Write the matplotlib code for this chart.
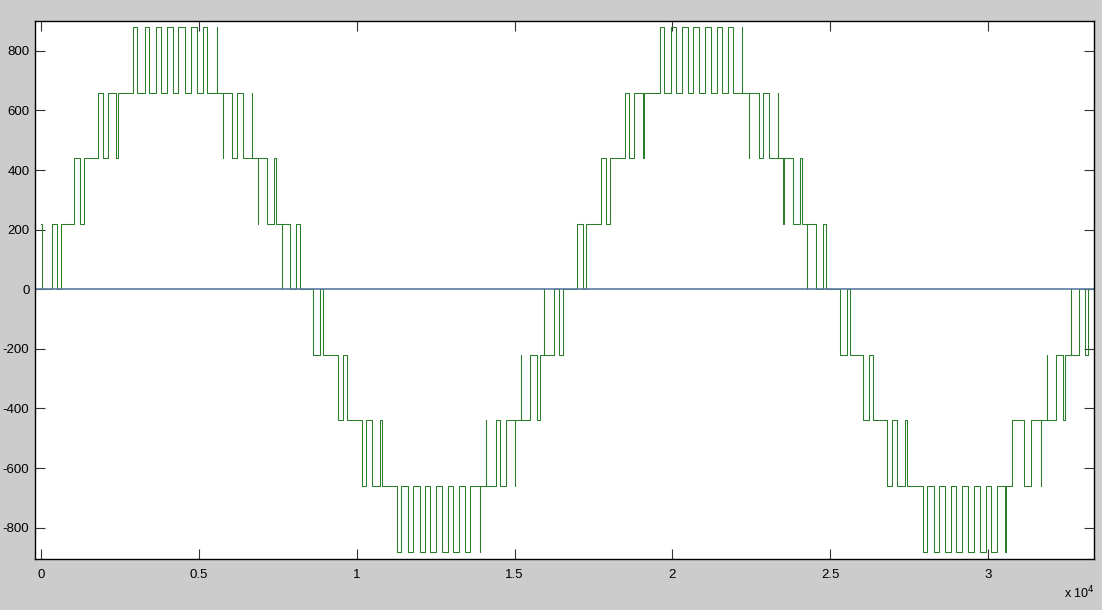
import numpy as np
import matplotlib.pyplot as plt

# inverter output voltage: switching instants (samples) and the level held after each
t_pos1 = [0, 15, 330, 490, 615, 1045, 1225, 1365, 1805, 1945, 2125, 2365, 2440,
          2915, 3025, 3285, 3415, 3625, 3785, 3975, 4185, 4340, 4555, 4735, 4925,
          5135, 5260, 5560, 5575, 5750, 5765, 6045, 6190, 6380, 6670, 6685, 6860,
          6875, 7145, 7360, 7445, 7620, 7635, 7890, 8080, 8190]
v_pos1 = [220, 0, 220, 0, 220, 440, 220, 440, 660, 440, 660, 440, 660,
          880, 660, 880, 660, 880, 660, 880, 660, 880, 660, 880, 660,
          880, 660, 880, 660, 440, 660, 440, 660, 440, 660, 440, 220,
          440, 220, 440, 220, 0, 220, 0, 220, 0]

t_neg1 = [8620, 8830, 8935, 9400, 9570, 9680, 10155, 10285, 10470, 10735, 10785,
          11265, 11385, 11620, 11765, 11985, 12150, 12320, 12510, 12700, 12880,
          13055, 13235, 13425, 13585, 13900, 13915, 14085, 14100, 14405, 14545,
          14715, 15010, 15025, 15195, 15210, 15475, 15700, 15790, 15930, 15945,
          16240, 16415, 16535]
v_neg1 = [-220, 0, -220, -440, -220, -440, -660, -440, -660, -440, -660,
          -880, -660, -880, -660, -880, -660, -880, -660, -880, -660,
          -880, -660, -880, -660, -880, -660, -440, -660, -440, -660,
          -440, -660, -440, -220, -440, -220, -440, -220, 0, -220,
          0, -220, 0]

t_pos2 = [16965, 17155, 17250, 17735, 17905, 18020, 18495, 18615, 18790, 19075,
          19090, 19595, 19725, 19945, 20115, 20305, 20490, 20660, 20850, 21035,
          21215, 21405, 21585, 21770, 21930, 22205, 22220, 22425, 22440, 22755,
          22880, 23070, 23335, 23350, 23515, 23530, 23830, 24045, 24105, 24265,
          24280, 24550, 24780, 24865]
v_pos2 = [220, 0, 220, 440, 220, 440, 660, 440, 660, 440,
          660, 880, 660, 880, 660, 880, 660, 880, 660, 880,
          660, 880, 660, 880, 660, 880, 660, 440, 660, 440,
          660, 440, 660, 440, 220, 440, 220, 440, 220, 0,
          220, 0, 220, 0]

t_neg2 = [25310, 25525, 25620, 26040, 26235, 26350, 26800, 26950, 27125, 27370,
          27425, 27950, 28060, 28280, 28450, 28640, 28830, 28995, 29185, 29360,
          29555, 29745, 29940, 30110, 30275, 30555, 30570, 30750, 31140, 31375,
          31670, 31685, 31860, 31875, 32170, 32370, 32430, 32620, 32635, 32895,
          33075, 33180, 33333]
v_neg2 = [-220, 0, -220, -440, -220, -440, -660, -440, -660, -440,
          -660, -880, -660, -880, -660, -880, -660, -880, -660, -880,
          -660, -880, -660, -880, -660, -880, -660, -440, -660, -440,
          -660, -440, -220, -440, -220, -440, -220, 0, -220, 0,
          -220, 0, 0]

yticks = [-800, -600, -400, -200, 0, 200, 400, 600, 800]
xticks = [0, 5000, 10000, 15000, 20000, 25000, 30000]
xticklabels = ['0', '0.5', '1', '1.5', '2', '2.5', '3']

t = np.array(t_pos1 + t_neg1 + t_pos2 + t_neg2)
v = np.array(v_pos1 + v_neg1 + v_pos2 + v_neg2)

plt.rcParams['font.family'] = ['Liberation Sans', 'DejaVu Sans']
plt.rcParams['axes.unicode_minus'] = False

fig = plt.figure(figsize=(11.02, 6.10), dpi=100, facecolor='#cccccc')
ax = fig.add_axes([35 / 1102, 1 - 559 / 610, 1059 / 1102, 538 / 610])
ax.set_facecolor('white')

ax.step(t, v, where='post', color='#2a7d2a', lw=0.75)
ax.axhline(0, color='#5b7aa0', lw=1.2)

ax.set_xlim(-200, 33360)
ax.set_ylim(-905, 900)
ax.set_xticks(xticks)
ax.set_xticklabels(xticklabels)
ax.set_yticks(yticks)

ax.tick_params(direction='in', length=7.5, width=0.8, top=True, right=True,
               labelsize=9.5, color='#333333')
ax.tick_params(axis='x', pad=7)
ax.tick_params(axis='y', pad=4)
for s in ax.spines.values():
    s.set_linewidth(1.0)
    s.set_color('black')

fig.text(1064 / 1102, 1 - 601 / 610, r'x 10$^4$', fontsize=9, ha='left', va='bottom')

fig.savefig('out.png', dpi=100, facecolor=fig.get_facecolor())
